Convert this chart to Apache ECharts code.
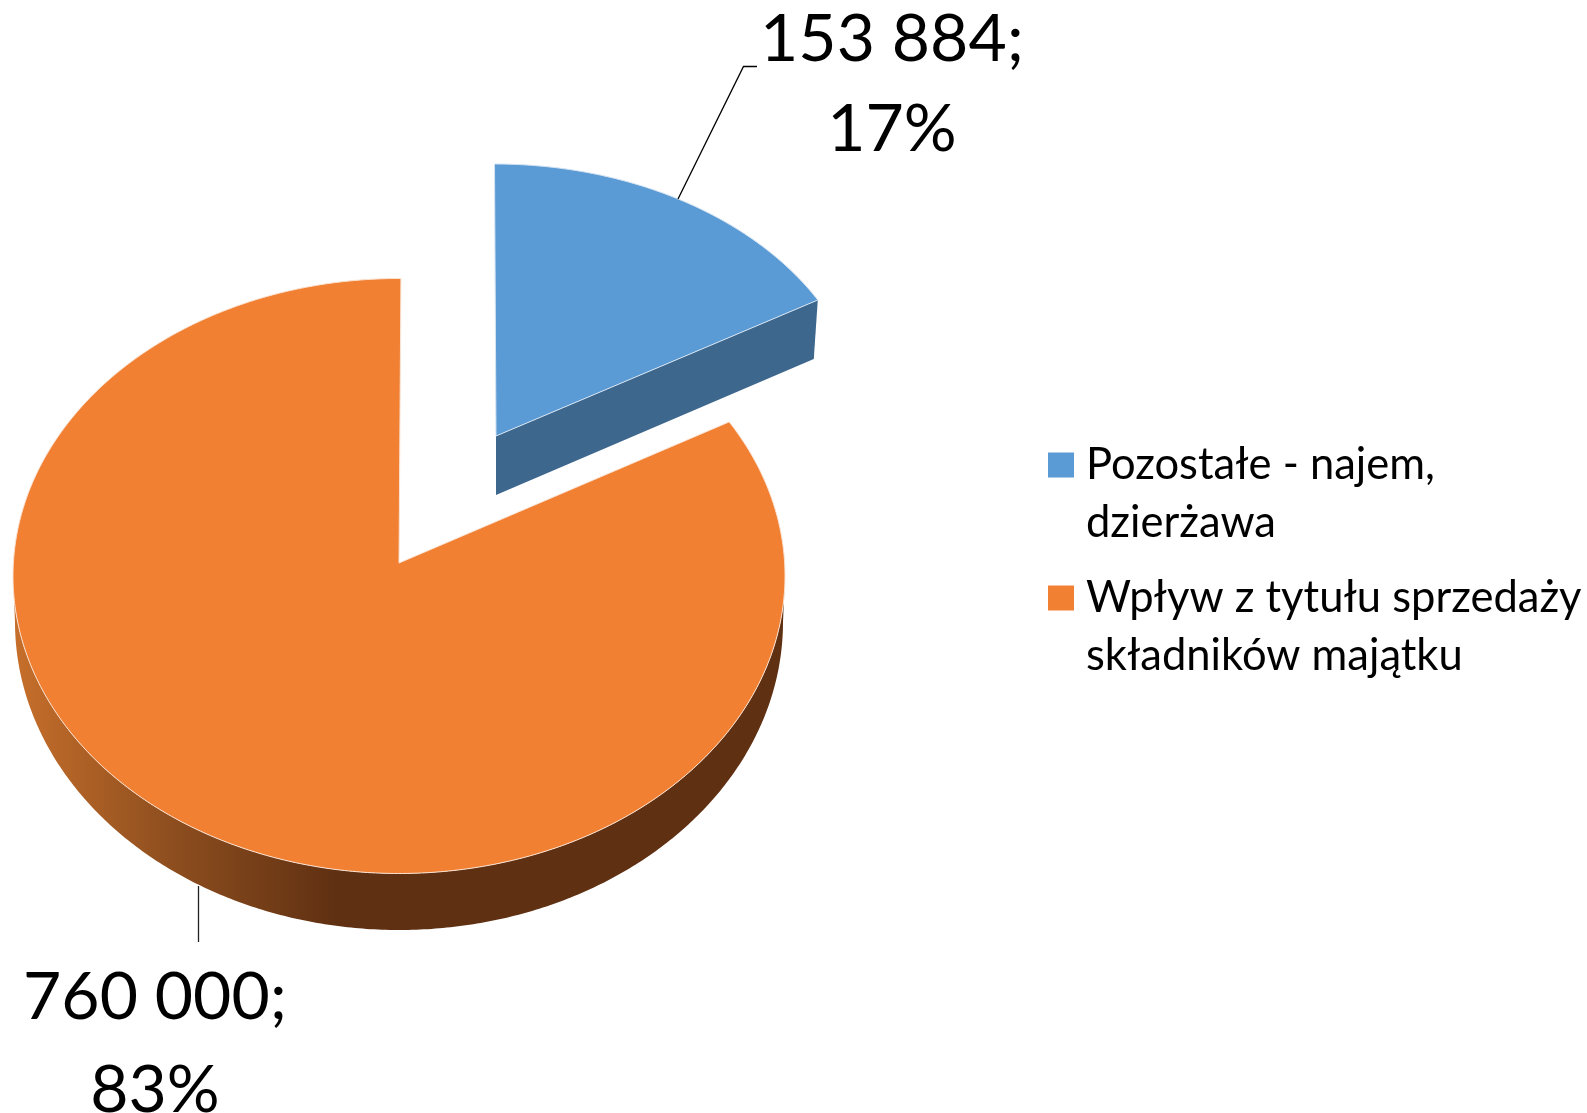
<!DOCTYPE html>
<html><head><meta charset="utf-8">
<style>html,body{margin:0;padding:0;background:#fff}#c{width:1587px;height:1113px}</style>
<script src="https://cdn.jsdelivr.net/npm/echarts@6/dist/echarts.min.js"></script>
</head><body><div id="c"></div>
<script>
const categories = ['Pozostałe - najem, dzierżawa', 'Wpływ z tytułu sprzedaży składników majątku'];
const values = [153884, 760000];
const colors = ['#5b9bd5', '#f28033'];
const legendLines = ['Pozostałe - najem,\ndzierżawa', 'Wpływ z tytułu sprzedaży\nskładników majątku'];

const total = values.reduce((a, b) => a + b, 0);
const FONT = 'Lato, "Open Sans", sans-serif';
const INK = '#000000';

function fmt(v) { return String(v).replace(/\B(?=(\d{3})+$)/g, ' '); }
function arc(e, a0, a1) {
  const pts = [];
  const n = Math.max(2, Math.ceil(Math.abs(a1 - a0) / 0.01));
  for (let i = 0; i <= n; i++) {
    const t = a0 + (a1 - a0) * i / n;
    pts.push([e.cx + e.rx * Math.sin(t), e.cy - e.ry * Math.cos(t)]);
  }
  return pts;
}
function labelText(v, x, y1, y2) {
  return [
    { type: 'text', style: { text: fmt(v) + ';', x: x, y: y1, font: '400 66px ' + FONT, fill: INK, align: 'center', verticalAlign: 'middle' } },
    { type: 'text', style: { text: Math.round(v / total * 100) + '%', x: x, y: y2, font: '400 66px ' + FONT, fill: INK, align: 'center', verticalAlign: 'middle' } }
  ];
}
function line(pts, c) {
  return { type: 'polyline', shape: { points: pts }, style: { stroke: c, lineWidth: 1.3, fill: null } };
}

function renderBlue(params, api) {
  const v = api.value(0);
  const sweep = v / total * Math.PI * 2;
  const top = { cx: 494.5, cy: 431, rx: 371, ry: 267 };
  const apex = [496, 436];
  const rim = arc(top, 0, sweep);
  const end = rim[rim.length - 1];
  return { type: 'group', children: [
    { type: 'polygon', shape: { points: [apex, end, [end[0] - 4, end[1] + 59], [apex[0], apex[1] + 59]] }, style: { fill: '#3e678d' } },
    { type: 'polygon', shape: { points: [apex].concat(rim) }, style: { fill: colors[0], stroke: '#d6e4f2', lineWidth: 1 } },
    line([[678, 199], [743.5, 66.5], [757, 66.5]], '#000000')
  ].concat(labelText(v, 892, 40, 130)) };
}

function renderOrange(params, api) {
  const v = api.value(0);
  // the perspective of the source picture narrows the angle slightly on the near slice
  const start = values[0] / total * Math.PI * 2 * 0.97;
  const end = Math.PI * 2 + 0.005;
  const top = { cx: 399, cy: 576, rx: 386, ry: 297.5 };
  const low = { cx: 399, cy: 622, rx: 384, ry: 308 };
  const apex = [399, 563];
  const h = Math.PI / 2;
  const side = arc(low, h, 3 * h).concat(arc(top, 3 * h, h));
  return { type: 'group', children: [
    { type: 'polygon', shape: { points: side }, style: { fill: {
      type: 'linear', x: 0, y: 0, x2: 1, y2: 0,
      colorStops: [{ offset: 0, color: '#c76f2b' }, { offset: 0.2, color: '#8f4f1f' }, { offset: 0.42, color: '#5f3012' }, { offset: 1, color: '#5f3012' }]
    } } },
    { type: 'polygon', shape: { points: [apex].concat(arc(top, start, end)) }, style: { fill: colors[1], stroke: '#fbe3d3', lineWidth: 1 } },
    line([[198.5, 886], [198.5, 942]], '#222222')
  ].concat(labelText(v, 155, 998, 1091)) };
}

const chart = echarts.init(document.getElementById('c'), null, { renderer: 'canvas' });
chart.setOption({
  animation: false,
  backgroundColor: '#ffffff',
  legend: {
    orient: 'vertical', left: 1043, top: 431, selectedMode: false,
    itemWidth: 26, itemHeight: 116, itemGap: 17,
    icon: 'path://M0 0L0 0M0 16.5L26 16.5L26 41.5L0 41.5ZM0 116L0 116',
    data: categories,
    formatter: name => legendLines[categories.indexOf(name)],
    textStyle: { fontFamily: FONT, fontSize: 43.5, lineHeight: 58, color: INK, padding: [0, 0, 0, 7] }
  },
  series: [
    { type: 'custom', name: categories[0], coordinateSystem: 'none', silent: true, itemStyle: { color: colors[0] }, data: [[values[0]]], renderItem: renderBlue },
    { type: 'custom', name: categories[1], coordinateSystem: 'none', silent: true, itemStyle: { color: colors[1] }, data: [[values[1]]], renderItem: renderOrange }
  ]
});
</script></body></html>
